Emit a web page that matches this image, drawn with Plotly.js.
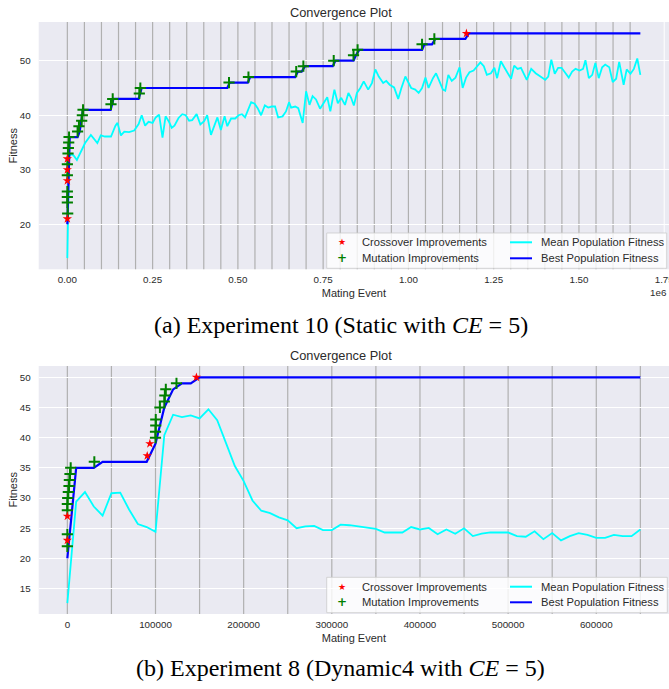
<!DOCTYPE html>
<html><head><meta charset="utf-8">
<script src="https://cdn.plot.ly/plotly-3.0.1.min.js"></script>
<style>html,body{margin:0;padding:0;background:#fff}#chart{width:669px;height:689px}</style>
</head><body><div id="chart"></div>
<script>
// ---------- Experiment 10 (top) ----------
const topMeanX = [0,5000,13000,20000,28000,39000,52000,69000,78000,88000,98000,110000,128000,141000,147000,157000,167000,181000,196000,209000,218000,228000,238000,250000,259000,269000,279000,288000,298000,
306000,314000,326000,337000,347000,357000,366000,379000,390000,401000,410000,421000,431000,440000,450000,461000,469000,480000,492000,502000,512000,521000,539000,549000,558000,568000,579000,589000,599000,609000,618000,631000,641000,650000,
656000,668000,677000,690000,700000,710000,719000,729000,741000,752000,762000,771000,783000,793000,803000,814000,824000,832000,840000,849000,859000,869000,882000,893000,903000,913000,926000,935000,945000,958000,970000,979000,991000,
1008000,1020000,1030000,1040000,1050000,1059000,1072000,1081000,1091000,1101000,1108000,1117000,1127000,1138000,1150000,1159000,1169000,1179000,1191000,1201000,1211000,1221000,1230000,1242000,1252000,1260000,1271000,1281000,1291000,1301000,1310000,1320000,1330000,
1347000,1360000,1373000,1387000,1401000,1410000,1419000,1429000,1439000,1449000,1458000,1470000,1480000,1490000,1502000,1512000,1519000,1529000,1539000,1548000,1558000,1568000,1577000,1589000,1599000,1609000,1618000,1631000,1640000,1651000,1661000,1671000,1680000];
const topMeanY = [13.8,32.5,32.9,32.5,31.8,33.1,34.9,36.4,35.7,34.9,36.3,36.1,36.1,38.1,38.6,36.3,37.0,36.9,37.2,38.4,40.0,38.1,38.8,38.6,39.6,40.1,35.9,39.8,38.8,
37.7,38.1,39.5,40.2,40.0,39.0,39.1,40.2,38.3,38.9,40.0,36.4,38.3,39.6,37.3,39.8,38.0,39.4,39.4,40.0,40.2,39.6,42.4,42.1,41.3,40.0,41.8,41.4,41.6,41.6,39.6,39.8,40.7,42.4,
41.4,41.6,41.3,38.6,44.4,41.9,43.5,42.9,41.2,42.4,43.3,40.7,44.7,42.2,43.2,41.9,44.1,43.2,41.8,44.1,45.0,46.2,44.7,45.9,48.4,47.1,45.9,46.3,45.6,45.1,43.0,44.9,47.1,
45.0,44.7,44.1,45.0,46.9,45.0,46.8,47.7,46.2,44.7,44.5,47.4,46.3,46.9,48.8,45.0,46.9,47.9,48.2,49.0,49.7,49.0,47.4,47.7,48.7,46.8,49.9,48.8,47.7,46.7,49.1,48.5,48.7,
46.5,48.5,47.7,47.1,46.5,47.1,50.2,47.6,48.7,48.7,48.0,46.9,48.0,48.5,48.2,48.5,50.1,46.8,47.4,49.6,46.8,48.8,49.3,48.8,46.1,46.7,49.8,45.6,48.4,47.6,48.5,50.4,47.4];
const topBestX = [0,7000,30000,36000,46000,127000,135000,209000,218000,469000,476000,529000,536000,668000,676000,687000,697000,778000,786000,839000,846000,856000,1040000,1047000,1069000,1079000,1167000,1177000,1680000];
const topBestY = [20,36,36,37,41,41,43,43,45,45,46,46,47,47,48,48,49,49,50,50,51,52,52,53,53,54,54,55,55];
const topCrossX = [0,0,0,0,1170000];
const topCrossY = [21,28,30,32,55];
const topMutX = [1000,0,0,0,0,0,2000,3000,4000,5000,30000,34000,42000,44000,46000,128000,133000,211000,214000,474000,531000,671000,692000,781000,839000,851000,1040000,1076000];
const topMutY = [22,24,25,26,29,31,33,34,35,36,37,38,39,40,41,42,43,44,45,46,47,48,49,50,51,52,53,54];
const topMarks = [0,50000,100000,150000,200000,250000,300000,350000,400000,450000,500000,550000,600000,650000,700000,750000,800000,850000,900000,950000,1000000,1050000,1100000,1150000,1200000,1250000,1300000,1350000,1400000,1450000,1500000,1550000,1600000,1650000];
const topTickVals = [0,250000,500000,750000,1000000,1250000,1500000,1750000];
const topTickText = ['0.00','0.25','0.50','0.75','1.00','1.25','1.50','1.75'];

// ---------- Experiment 8 (bottom) ----------
const botMeanX = [0,10000,20000,30000,40000,50000,60000,70000,80000,90000,100000,110000,120000,130000,140000,150000,160000,170000,180000,190000,200000,210000,220000,230000,240000,250000,260000,270000,280000,290000,300000,310000,320000,330000,340000,350000,360000,370000,380000,390000,400000,410000,420000,430000,440000,450000,460000,470000,480000,490000,500000,510000,520000,530000,540000,550000,560000,570000,580000,590000,600000,610000,620000,630000,640000,650000];
const botMeanY = [12.6,29.4,31.0,28.6,27.1,30.8,30.9,28.1,25.7,25.2,24.4,40.4,43.8,43.4,43.7,43.2,44.7,42.9,39.1,35.3,32.8,29.6,27.9,27.5,26.8,26.3,25.0,25.3,25.4,24.7,24.7,25.6,25.5,25.3,25.1,24.9,24.3,24.3,24.3,25.2,24.8,25.05,24.0,24.8,24.1,25.0,23.7,24.1,24.3,24.3,24.3,23.7,23.6,24.5,23.2,24.2,23.0,23.7,24.2,23.9,23.4,23.4,23.9,23.7,23.7,24.8];
const botBestX = [0,10000,30000,40000,90000,100000,110000,120000,130000,140000,150000,650000];
const botBestY = [20,35,35,36,36,39,45,48,49,49,50,50];
const botCrossX = [0,0,90600,93600,146400];
const botCrossY = [23,27,37,39,50];
const botMutX = [0,0,0,0,400,1100,1900,2300,3000,3800,30600,100000,100000,100300,100300,105000,110000,110600,111700,123800];
const botMutY = [22,24,28,29,30,31,32,33,34,35,36,40,41,42,43,45,46,47,48,49];
const botMarks = [0,50000,100000,150000,200000,250000,300000,350000,400000,450000,500000,550000,600000,650000];
const botTickVals = [0,100000,200000,300000,400000,500000,600000];

const W = 669, H = 689;
const PX = p => p / W, PY = p => 1 - p / H;
const FONT = 'Liberation Sans, Arial, sans-serif';
const TXT = '#2b2b2b';

function series(xa, ya, meanX, meanY, bestX, bestY, cX, cY, mX, mY) {
  return [
    {x: meanX, y: meanY, xaxis: xa, yaxis: ya, type: 'scatter', mode: 'lines', name: 'Mean Population Fitness', line: {color: '#00FFFF', width: 1.8}, showlegend: false},
    {x: bestX, y: bestY, xaxis: xa, yaxis: ya, type: 'scatter', mode: 'lines', name: 'Best Population Fitness', line: {color: '#0000FF', width: 2.2}, showlegend: false},
    {x: mX, y: mY, xaxis: xa, yaxis: ya, type: 'scatter', mode: 'markers', name: 'Mutation Improvements', marker: {symbol: 'cross-thin', size: 8, color: '#008000', line: {color: '#008000', width: 2}}, showlegend: false},
    {x: cX, y: cY, xaxis: xa, yaxis: ya, type: 'scatter', mode: 'markers', name: 'Crossover Improvements', marker: {symbol: 'star', size: 7, color: '#FF0000', line: {width: 0}}, showlegend: false}
  ];
}

const data = [].concat(
  series('x', 'y', topMeanX, topMeanY, topBestX, topBestY, topCrossX, topCrossY, topMutX, topMutY),
  series('x2', 'y2', botMeanX, botMeanY, botBestX, botBestY, botCrossX, botCrossY, botMutX, botMutY)
);

const xDom = [38.7 / W, 1];
const axCommon = {
  showgrid: false, zeroline: false, showline: false,
  ticks: 'outside', ticklen: 1, tickcolor: 'rgba(0,0,0,0)', ticklabeloverflow: 'allow',
  tickfont: {family: FONT, size: 9.8, color: TXT}, automargin: false, fixedrange: true
};
const yCommon = Object.assign({}, axCommon, {showgrid: true, gridcolor: '#FFFFFF', gridwidth: 1, ticklen: 5});

const shapes = [];
function vmarks(marks, xref, yref) {
  marks.forEach(v => shapes.push({type: 'line', xref: xref, yref: yref + ' domain', x0: v, x1: v, y0: 0, y1: 1, layer: 'below', line: {color: '#B0B0B0', width: 1.2}}));
}
vmarks(topMarks, 'x', 'y');
vmarks(botMarks, 'x2', 'y2');
shapes.push({type: 'line', xref: 'x', yref: 'y domain', x0: 1750000, x1: 1750000, y0: 0, y1: 1, layer: 'below', line: {color: '#FFFFFF', width: 1}});

const annotations = [];
function legendBox(x0, y0, x1, y1, rowA, rowB) {
  shapes.push({type: 'rect', xref: 'paper', yref: 'paper', x0: PX(x0), x1: PX(x1), y0: PY(y1), y1: PY(y0), layer: 'above', fillcolor: 'rgba(255,255,255,0.8)', line: {color: 'rgba(204,204,204,0.8)', width: 1}});
  shapes.push({type: 'line', xref: 'paper', yref: 'paper', x0: PX(510), x1: PX(532), y0: PY(rowA), y1: PY(rowA), layer: 'above', line: {color: '#00FFFF', width: 2}});
  shapes.push({type: 'line', xref: 'paper', yref: 'paper', x0: PX(510), x1: PX(532), y0: PY(rowB), y1: PY(rowB), layer: 'above', line: {color: '#0000FF', width: 2}});
  const lf = {family: FONT, size: 11.2, color: TXT};
  annotations.push({xref: 'paper', yref: 'paper', x: PX(341.7), y: PY(rowA), text: '★', showarrow: false, xanchor: 'center', yanchor: 'middle', font: {family: 'DejaVu Sans', size: 9, color: '#FF0000'}});
  annotations.push({xref: 'paper', yref: 'paper', x: PX(341.7), y: PY(rowB), text: '<b>+</b>', showarrow: false, xanchor: 'center', yanchor: 'middle', font: {family: 'DejaVu Sans', size: 12, color: '#008000'}});
  annotations.push({xref: 'paper', yref: 'paper', x: PX(360), y: PY(rowA), text: 'Crossover Improvements', showarrow: false, xanchor: 'left', yanchor: 'middle', font: lf});
  annotations.push({xref: 'paper', yref: 'paper', x: PX(360), y: PY(rowB), text: 'Mutation Improvements', showarrow: false, xanchor: 'left', yanchor: 'middle', font: lf});
  annotations.push({xref: 'paper', yref: 'paper', x: PX(539), y: PY(rowA), text: 'Mean Population Fitness', showarrow: false, xanchor: 'left', yanchor: 'middle', font: lf});
  annotations.push({xref: 'paper', yref: 'paper', x: PX(539), y: PY(rowB), text: 'Best Population Fitness', showarrow: false, xanchor: 'left', yanchor: 'middle', font: lf});
}
legendBox(326.7, 233, 666.7, 268.3, 242.3, 258.3);
legendBox(326.7, 577.3, 667.3, 612.7, 586.7, 602.3);

function ann(x, y, text, size, extra) {
  annotations.push(Object.assign({xref: 'paper', yref: 'paper', x: PX(x), y: PY(y), text: text, showarrow: false, xanchor: 'center', yanchor: 'middle', font: {family: FONT, size: size, color: TXT}}, extra || {}));
}
ann(340.5, 12, 'Convergence Plot', 12.8);
ann(340.5, 355.5, 'Convergence Plot', 12.8);
ann(669, 292.5, '1e6', 9.8, {xanchor: 'right'});
ann(12.5, 146, 'Fitness', 11, {textangle: -90});
ann(12.5, 490, 'Fitness', 11, {textangle: -90});
const capFont = {family: 'Liberation Serif, Times New Roman, serif', size: 24, color: '#000'};
annotations.push({xref: 'paper', yref: 'paper', x: PX(341), y: PY(325), text: '(a) Experiment 10 (Static with <i>CE</i>\u2005=\u20055)', showarrow: false, xanchor: 'center', yanchor: 'middle', font: capFont});
annotations.push({xref: 'paper', yref: 'paper', x: PX(340), y: PY(668), text: '(b) Experiment 8 (Dynamic4 with <i>CE</i>\u2005=\u20055)', showarrow: false, xanchor: 'center', yanchor: 'middle', font: capFont});

const titleFont = {family: FONT, size: 11, color: TXT};
const layout = {
  width: W, height: H,
  margin: {l: 0, r: 0, t: 0, b: 0},
  paper_bgcolor: '#FFFFFF', plot_bgcolor: '#EAEAF2',
  showlegend: false,
  xaxis: Object.assign({}, axCommon, {domain: xDom, anchor: 'y', range: [-84000, 1764000], tickvals: topTickVals, ticktext: topTickText, title: {text: 'Mating Event', font: titleFont, standoff: 5}}),
  yaxis: Object.assign({}, yCommon, {domain: [PY(269.3), PY(22)], anchor: 'x', range: [11.75, 57.1], tickvals: [20, 30, 40, 50]}),
  xaxis2: Object.assign({}, axCommon, {domain: xDom, anchor: 'y2', range: [-32500, 682500], tickvals: botTickVals, ticktext: botTickVals.map(String), title: {text: 'Mating Event', font: titleFont, standoff: 5}}),
  yaxis2: Object.assign({}, yCommon, {domain: [PY(614), PY(366)], anchor: 'x2', range: [10.8, 51.87], tickvals: [15, 20, 25, 30, 35, 40, 45, 50]}),
  shapes: shapes,
  annotations: annotations
};

Plotly.newPlot('chart', data, layout, {displayModeBar: false, staticPlot: true});
</script>
</body></html>
